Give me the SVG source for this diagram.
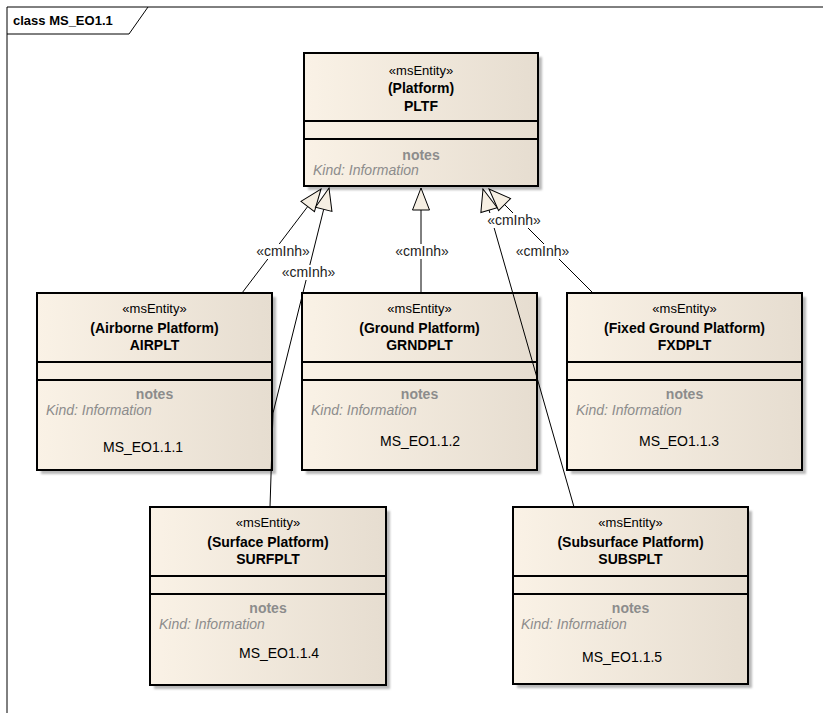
<svg xmlns="http://www.w3.org/2000/svg" width="823" height="713" viewBox="0 0 823 713">
  <style>
    .frame { fill: none; stroke: #000; stroke-width: 1; }
    .title { font: bold 13px "Liberation Sans", Arial, sans-serif; fill: #000; }
    .body { fill: url(#cream); stroke: #000; stroke-width: 2; }
    .shadow { fill: #b8b8b8; filter: url(#soft); }
    .sep { stroke: #000; stroke-width: 2; }
    .st { font: 13px "Liberation Sans", Arial, sans-serif; fill: #000; text-anchor: middle; }
    .nm { font: bold 14px "Liberation Sans", Arial, sans-serif; fill: #000; text-anchor: middle; }
    .notes { font: bold 14px "Liberation Sans", Arial, sans-serif; fill: #8c8c8c; text-anchor: middle; }
    .kind { font: italic 14px "Liberation Sans", Arial, sans-serif; fill: #8c8c8c; }
    .code { font: 14px "Liberation Sans", Arial, sans-serif; fill: #000; }
    .link { fill: none; stroke: #000; stroke-width: 1; marker-end: url(#gen); }
    .lbl { font: 14px "Liberation Sans", Arial, sans-serif; fill: #222; text-anchor: middle; }
    .lblbg { fill: #fff; }
  </style>
  <defs>
    <linearGradient id="cream" x1="0" y1="0" x2="1" y2="0">
      <stop offset="0" stop-color="#faf2e6"/>
      <stop offset="1" stop-color="#e6ddd0"/>
    </linearGradient>
    <filter id="soft" x="-5%" y="-5%" width="110%" height="110%">
      <feGaussianBlur stdDeviation="1"/>
    </filter>
    <!-- hollow triangle for generalization ends -->
    <marker id="gen" markerUnits="userSpaceOnUse" viewBox="-1 -1 24 19" markerWidth="24" markerHeight="19" refX="22" refY="8.5" orient="auto">
      <path d="M0,0 L22,8.5 L0,17 Z" fill="#f6efe3" stroke="#000" stroke-width="1"/>
    </marker>
  </defs>

  <rect width="823" height="713" fill="#fff"/>

  <!-- diagram frame -->
  <g id="frame">
    <path class="frame" d="M7,713 V7 H823"/>
    <path class="frame" d="M7,34 H129 L148,7"/>
    <text class="title" x="13" y="25">class MS_EO1.1</text>
  </g>

  <!-- Platform -->
  <g id="PLTF">
    <rect class="shadow" x="308" y="57" width="234" height="133"/>
    <rect class="body" x="304" y="53" width="234" height="133"/>
    <line class="sep" x1="304" y1="121" x2="538" y2="121"/>
    <line class="sep" x1="304" y1="139" x2="538" y2="139"/>
    <text class="st" x="421" y="75">«msEntity»</text>
    <text class="nm" x="421" y="93">(Platform)</text>
    <text class="nm" x="421" y="111">PLTF</text>
    <text class="notes" x="421" y="160">notes</text>
    <text class="kind" x="313" y="175">Kind: Information</text>
  </g>

  <!-- Airborne Platform -->
  <g id="AIRPLT">
    <rect class="shadow" x="41" y="297" width="235" height="177"/>
    <rect class="body" x="37" y="293" width="235" height="177"/>
    <line class="sep" x1="37" y1="362" x2="272" y2="362"/>
    <line class="sep" x1="37" y1="380" x2="272" y2="380"/>
    <text class="st" x="154.5" y="313">«msEntity»</text>
    <text class="nm" x="154.5" y="333">(Airborne Platform)</text>
    <text class="nm" x="154.5" y="350">AIRPLT</text>
    <text class="notes" x="154.5" y="399">notes</text>
    <text class="kind" x="46" y="415">Kind: Information</text>
    <text class="code" x="103" y="452">MS_EO1.1.1</text>
  </g>

  <!-- Ground Platform -->
  <g id="GRNDPLT">
    <rect class="shadow" x="306" y="297" width="235" height="177"/>
    <rect class="body" x="302" y="293" width="235" height="177"/>
    <line class="sep" x1="302" y1="362" x2="537" y2="362"/>
    <line class="sep" x1="302" y1="380" x2="537" y2="380"/>
    <text class="st" x="419.5" y="313">«msEntity»</text>
    <text class="nm" x="419.5" y="333">(Ground Platform)</text>
    <text class="nm" x="419.5" y="350">GRNDPLT</text>
    <text class="notes" x="419.5" y="399">notes</text>
    <text class="kind" x="311" y="415">Kind: Information</text>
    <text class="code" x="380" y="446">MS_EO1.1.2</text>
  </g>

  <!-- Fixed Ground Platform -->
  <g id="FXDPLT">
    <rect class="shadow" x="571" y="297" width="235" height="177"/>
    <rect class="body" x="567" y="293" width="235" height="177"/>
    <line class="sep" x1="567" y1="362" x2="802" y2="362"/>
    <line class="sep" x1="567" y1="380" x2="802" y2="380"/>
    <text class="st" x="684.5" y="313">«msEntity»</text>
    <text class="nm" x="684.5" y="333">(Fixed Ground Platform)</text>
    <text class="nm" x="684.5" y="350">FXDPLT</text>
    <text class="notes" x="684.5" y="399">notes</text>
    <text class="kind" x="576" y="415">Kind: Information</text>
    <text class="code" x="639" y="446">MS_EO1.1.3</text>
  </g>

  <!-- Surface Platform -->
  <g id="SURFPLT">
    <rect class="shadow" x="154" y="511" width="236" height="178"/>
    <rect class="body" x="150" y="507" width="236" height="178"/>
    <line class="sep" x1="150" y1="576" x2="386" y2="576"/>
    <line class="sep" x1="150" y1="594" x2="386" y2="594"/>
    <text class="st" x="268" y="527">«msEntity»</text>
    <text class="nm" x="268" y="547">(Surface Platform)</text>
    <text class="nm" x="268" y="564">SURFPLT</text>
    <text class="notes" x="268" y="613">notes</text>
    <text class="kind" x="159" y="629">Kind: Information</text>
    <text class="code" x="239" y="658">MS_EO1.1.4</text>
  </g>

  <!-- Subsurface Platform -->
  <g id="SUBSPLT">
    <rect class="shadow" x="517" y="511" width="235" height="177"/>
    <rect class="body" x="513" y="507" width="235" height="177"/>
    <line class="sep" x1="513" y1="576" x2="748" y2="576"/>
    <line class="sep" x1="513" y1="594" x2="748" y2="594"/>
    <text class="st" x="630.5" y="527">«msEntity»</text>
    <text class="nm" x="630.5" y="547">(Subsurface Platform)</text>
    <text class="nm" x="630.5" y="564">SUBSPLT</text>
    <text class="notes" x="630.5" y="613">notes</text>
    <text class="kind" x="521" y="629">Kind: Information</text>
    <text class="code" x="582" y="662">MS_EO1.1.5</text>
  </g>

  <!-- inheritance connectors, drawn over the nodes -->
  <g id="connectors">
    <path class="link" d="M242,293 L321,189"/>
    <path class="link" d="M270,507 L273,413 L329,188"/>
    <path class="link" d="M421,293 L421,188"/>
    <path class="link" d="M574,507 L483,189"/>
    <path class="link" d="M593,293 L489,189"/>

    <rect class="lblbg" x="256" y="244" width="55" height="15"/>
    <text class="lbl" x="283" y="256">«cmInh»</text>
    <rect class="lblbg" x="281" y="265" width="55" height="15"/>
    <text class="lbl" x="308.5" y="277">«cmInh»</text>
    <rect class="lblbg" x="395" y="244" width="55" height="15"/>
    <text class="lbl" x="422" y="256">«cmInh»</text>
    <rect class="lblbg" x="487" y="213" width="55" height="15"/>
    <text class="lbl" x="514" y="225">«cmInh»</text>
    <rect class="lblbg" x="515" y="244" width="55" height="15"/>
    <text class="lbl" x="542.5" y="256">«cmInh»</text>
  </g>
</svg>
